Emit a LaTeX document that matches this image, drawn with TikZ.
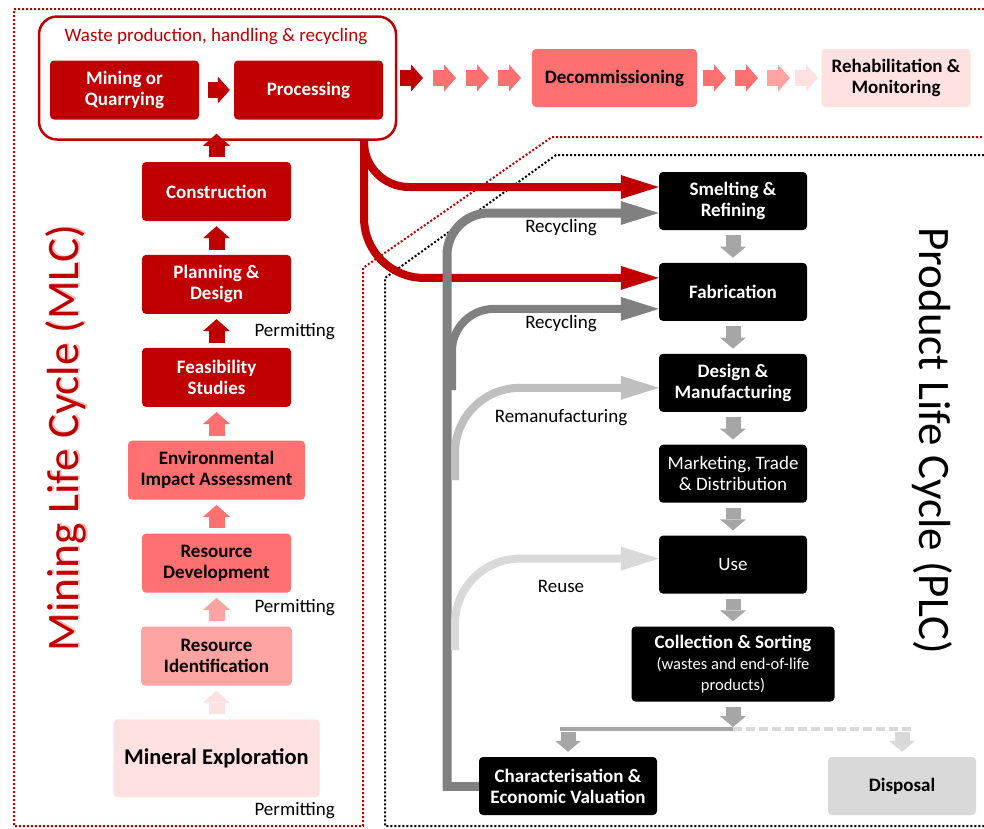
\documentclass[tikz,border=0pt]{standalone}
\usepackage{fontspec}
\setmainfont{Carlito}
\usetikzlibrary{arrows.meta,positioning}

\definecolor{mlcred}{HTML}{C00000}
\definecolor{salmon}{HTML}{FF7070}
\definecolor{pinkish}{HTML}{FFA3A3}
\definecolor{blush}{HTML}{FFE1E1}
\definecolor{stepgray}{HTML}{A6A6A6}
\definecolor{loopgray}{HTML}{808080}
\definecolor{remangray}{HTML}{BFBFBF}
\definecolor{reusegray}{HTML}{D9D9D9}
\newcommand{\smallnote}{\mdseries\fontsize{16.5}{18.5}\selectfont}

\begin{document}
\begin{tikzpicture}[x=1pt,y=-1pt,node distance=33.5pt,
  stage/.style={rectangle,rounded corners=4pt,minimum width=149pt,minimum height=59pt,
    inner sep=0pt,align=center,font=\fontsize{19}{21}\selectfont\bfseries},
  hot/.style={stage,fill=mlcred,text=white},
  warm/.style={stage,fill=salmon},
  mild/.style={stage,fill=pinkish},
  pale/.style={stage,fill=blush},
  prod/.style={stage,fill=black,text=white,minimum width=148pt,minimum height=58pt},
  lbl/.style={font=\fontsize{19}{21}\selectfont},
  blk/.style={line width=16pt,-{Triangle[length=12pt,width=27pt,line width=0pt]},
    shorten <=5pt,shorten >=5pt},
  gblk/.style={stepgray,line width=15pt,-{Triangle[length=11pt,width=26pt,line width=0pt]},
    shorten <=5pt,shorten >=5pt},
  feed/.style={line width=8pt,-{Triangle[length=38pt,width=24pt,line width=0pt]}},
  border/.style={line width=2pt,dash pattern=on 2pt off 2pt}]
  \useasboundingbox (0,0) rectangle (984,828);
  \fill[white] (0,0) rectangle (984,828);
  % Borders of the two life cycles
  \draw[border,mlcred] (984,9) -- (14,9) -- (14,826) -- (363,826) -- (363,268) -- (552,137) -- (984,137);
  \draw[border] (984,155) -- (556,155) -- (385,278) -- (385,826) -- (984,826);
  \node[rotate=90,text=pinkish!70,font=\fontsize{45}{54}\selectfont] (mlcglow) at (68,437) {Mining Life Cycle (MLC)};
  \node[rotate=90,text=mlcred,font=\fontsize{45}{54}\selectfont] (mlc) at (66,438) {Mining Life Cycle (MLC)};
  \node[rotate=-90,font=\fontsize{45}{54}\selectfont] (plc) at (932,441) {Product Life Cycle (PLC)};

  % Product life cycle
  \node[prod] (smelt) at (733,201) {Smelting \&\\Refining};
  \node[prod,below=32.5pt of smelt] (fab) {Fabrication};
  \node[prod,below=32.5pt of fab] (desman) {Design \&\\Manufacturing};
  \node[prod,below=32.5pt of desman,font=\fontsize{19}{21}\selectfont] (mkt) {Marketing, Trade\\\& Distribution};
  \node[prod,below=32.5pt of mkt,font=\fontsize{19}{21}\selectfont] (use) {Use};
  \node[prod,below=32.5pt of use,minimum width=203pt,minimum height=75pt] (coll)
    {Collection \& Sorting\\\smallnote(wastes and end-of-life\\\smallnote products)};
  \node[prod,minimum width=178pt] (charv) at (568,786) {Characterisation \&\\Economic Valuation};
  \node[stage,fill=reusegray,minimum width=148pt,minimum height=58pt] (disp) at (902,786) {Disposal};
  \foreach \a/\b in {smelt/fab,fab/desman,desman/mkt,mkt/use,use/coll}
    \draw[gblk] (\a) -- (\b);
  \coordinate (splitl) at (560,729);
  \coordinate (splitm) at (733,729);
  \coordinate (splitr) at (914,729);
  \draw[stepgray,line width=4pt] (splitl) -- (splitm);
  \draw[reusegray,line width=4pt,dash pattern=on 9pt off 4pt] (splitm) -- (splitr);
  \draw[gblk,shorten >=2pt] (coll) -- (splitm);
  \draw[gblk,shorten <=3pt,shorten >=5pt] (charv.north |- splitl) -- (charv.north);
  \draw[gblk,reusegray,shorten <=3pt,shorten >=5pt] (disp.north |- splitr) -- (disp.north);

  % Feedback loops
  \coordinate (wout) at (364,139);
  \coordinate (trunkfoot) at (447,790.5);
  \coordinate (recycfoot) at (452,390);
  \coordinate (remanfoot) at (455,480);
  \coordinate (reusefoot) at (455,650);
  \draw[feed,mlcred,rounded corners=45pt] (wout) |- ([yshift=14pt]smelt.west);
  \draw[feed,mlcred,rounded corners=60pt] (wout) |- ([yshift=14pt]fab.west);
  \draw[loopgray,line width=9pt] (charv.west) -- (442.5,786);
  \draw[feed,loopgray,line width=9pt,rounded corners=42pt] (trunkfoot) |- ([yshift=-12pt]smelt.west);
  \draw[feed,loopgray,rounded corners=42pt] (recycfoot) |- ([yshift=-17pt]fab.west);
  \draw[feed,remangray,rounded corners=65pt] (remanfoot) |- ([yshift=-5pt]desman.west);
  \draw[feed,reusegray,rounded corners=65pt] (reusefoot) |- ([yshift=6pt]use.west);
  \node[lbl] (recyc1) at (561,228) {Recycling};
  \node[lbl] (recyc2) at (561,324) {Recycling};
  \node[lbl] (reman) at (561,418) {Remanufacturing};
  \node[lbl] (reuse) at (561,586) {Reuse};

  % Mining life cycle
  \node[draw=mlcred,line width=2.5pt,rounded corners=18pt,minimum width=357pt,
    minimum height=123pt,fill=white] (grp) at (217.5,78) {};
  \node[lbl,text=mlcred] (grptitle) at (216,37) {Waste production, handling \& recycling};
  \node[hot] (mine) at (124.5,90) {Mining or\\Quarrying};
  \node[hot] (proc) at (308.5,90) {Processing};
  \draw[blk,mlcred,shorten <=9pt,shorten >=4pt] (mine) -- (proc);
  \node[warm,minimum width=165pt,minimum height=58pt] (decom) at (614.5,78) {Decommissioning};
  \node[pale,minimum height=58pt] (rehab) at (896,78) {Rehabilitation \&\\Monitoring};
  \foreach \x/\col in {400/mlcred,433/salmon,466/salmon,498/salmon,703/salmon,735/salmon,767/pinkish,795/blush}
    \draw[blk,\col,shorten <=0pt,shorten >=0pt] (\x,78) -- +(23,0);

  \node[hot] (cons) at (216.5,191.5) {Construction};
  \node[hot,below=of cons] (plan) {Planning \&\\Design};
  \node[hot,below=of plan] (feas) {Feasibility\\Studies};
  \node[warm,below=of feas,minimum width=177pt] (eia) {Environmental\\Impact Assessment};
  \node[warm,below=of eia] (rdev) {Resource\\Development};
  \node[mild,below=of rdev,minimum width=151pt] (rid) {Resource\\Identification};
  \node[pale,below=of rid,minimum width=206pt,minimum height=78pt,
    font=\fontsize{22.5}{26}\selectfont\bfseries] (mexp) {Mineral Exploration};
  \draw[blk,mlcred,shorten >=-7pt] (cons.north) -- (cons.north |- grp.south);
  \foreach \a/\b/\col in {plan/cons/mlcred,feas/plan/mlcred,eia/feas/salmon,
      rdev/eia/salmon,rid/rdev/pinkish,mexp/rid/blush}
    \draw[blk,\col] (\a) -- (\b);
  \node[lbl,anchor=west] (perm1) at (251,332) {Permitting};
  \node[lbl,anchor=west] (perm2) at (251,608) {Permitting};
  \node[lbl,anchor=west] (perm3) at (251,811) {Permitting};
\end{tikzpicture}
\end{document}
